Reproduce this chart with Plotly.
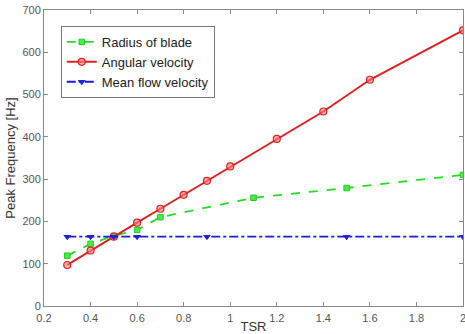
import plotly.graph_objects as go

tsr_angular = [0.3, 0.4, 0.5, 0.6, 0.7, 0.8, 0.9, 1.0, 1.2, 1.4, 1.6, 2.0]
freq_angular = [97, 131, 164, 197, 230, 263, 296, 330, 395, 460, 535, 652]

tsr_radius = [0.3, 0.4, 0.5, 0.6, 0.7, 1.1, 1.5, 2.0]
freq_radius = [119, 147, 166, 180, 210, 256, 279, 310]

tsr_flow = [0.3, 0.4, 0.5, 0.6, 0.9, 1.5, 2.0]
freq_flow = [164, 164, 164, 164, 164, 164, 164]

x_ticks = [0.2, 0.4, 0.6, 0.8, 1.0, 1.2, 1.4, 1.6, 1.8, 2.0]
x_tick_labels = ["0.2", "0.4", "0.6", "0.8", "1", "1.2", "1.4", "1.6", "1.8", "2"]
y_ticks = [0, 100, 200, 300, 400, 500, 600, 700]

FONT = "Liberation Sans, Arial"

fig = go.Figure()
fig.add_trace(go.Scatter(
    x=tsr_radius, y=freq_radius, name="Radius of blade", mode="lines+markers",
    line=dict(color="#22dd22", width=1.8, dash="dash"),
    marker=dict(symbol="square", size=5.5, color="#44ee44", line=dict(color="#22cc22", width=1))))
fig.add_trace(go.Scatter(
    x=tsr_angular, y=freq_angular, name="Angular velocity", mode="lines+markers",
    line=dict(color="#e02020", width=2),
    marker=dict(symbol="circle", size=7, color="rgba(255,120,120,0.6)", line=dict(color="#e02020", width=1.2))))
fig.add_trace(go.Scatter(
    x=tsr_flow, y=freq_flow, name="Mean flow velocity", mode="lines+markers",
    line=dict(color="#1a1ae0", width=1.8, dash="dashdot"),
    marker=dict(symbol="triangle-down", size=7, color="#2020e0")))

axis_common = dict(showline=True, linecolor="#888888", linewidth=1, mirror="ticks",
                   ticks="inside", ticklen=4, tickcolor="#888888", showgrid=False,
                   zeroline=False, automargin=False, ticklabeloverflow="allow",
                   tickfont=dict(family=FONT, size=11, color="#555555"))

fig.update_xaxes(range=[0.2, 2.0], tickvals=x_ticks, ticktext=x_tick_labels,
                 title=dict(text="TSR", standoff=0, font=dict(family=FONT, size=13, color="#333333")),
                 ticklabelstandoff=2, **axis_common)
fig.update_yaxes(range=[0, 700], tickvals=y_ticks,
                 title=dict(text="Peak Frequency [Hz]", standoff=3, font=dict(family=FONT, size=13, color="#333333")),
                 ticklabelstandoff=0, **axis_common)

fig.update_layout(
    width=465, height=334,
    margin=dict(l=44, r=2, t=10, b=28),
    paper_bgcolor="white", plot_bgcolor="white",
    showlegend=True,
    legend=dict(x=0.04, y=0.946, xanchor="left", yanchor="top",
                bgcolor="white", bordercolor="#777777", borderwidth=1,
                font=dict(family=FONT, size=13, color="#222222"),
                itemwidth=30, tracegroupgap=0),
)
fig.write_html("out.html", config={"displayModeBar": False},
               post_script="document.body.style.margin='0';")
